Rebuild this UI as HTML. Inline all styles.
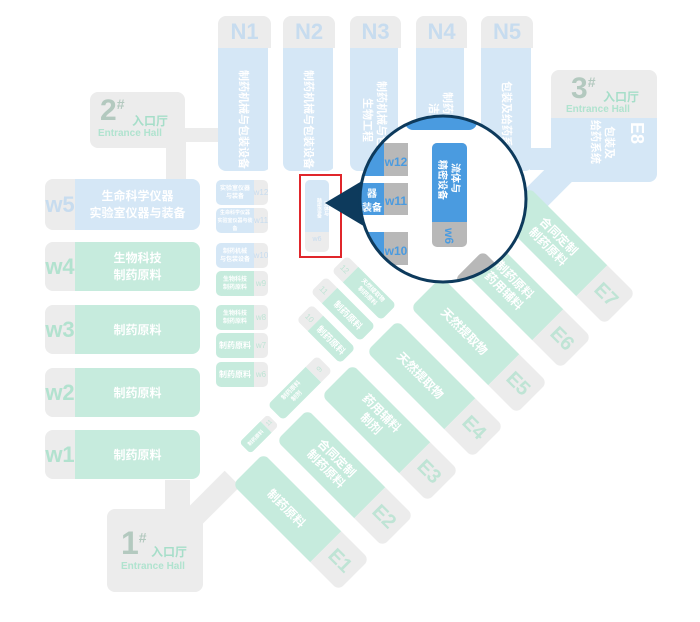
<!DOCTYPE html>
<html><head><meta charset="utf-8"><style>
body{margin:0;width:700px;height:622px;background:#fff;position:relative;overflow:hidden;font-family:"Liberation Sans","Noto Sans CJK SC",sans-serif;}
.a{position:absolute;box-sizing:border-box;}
.g{background:#ececec;}
.b{background:#d5e7f6;}
.gr{background:#c6ebdd;}
.t{color:#fff;font-weight:bold;text-align:center;}
.row{display:flex;border-radius:8px;overflow:hidden;}
.lab{display:flex;align-items:center;justify-content:center;}
.vt{writing-mode:vertical-rl;text-orientation:sideways;}
.rot{transform:translate(-50%,-50%) rotate(45deg);display:flex;border-radius:7px;overflow:hidden;}
.rotn{transform:translate(-50%,-50%) rotate(-45deg);display:flex;border-radius:6px;overflow:hidden;}
</style></head><body>

<!-- connectors -->
<div class="a g" style="left:166px;top:140px;width:20px;height:45px"></div>
<div class="a g" style="left:180px;top:128px;width:40px;height:14px"></div>
<div class="a g" style="left:165px;top:480px;width:25px;height:35px"></div>
<div class="a g" style="left:190px;top:510px;width:60px;height:22px;transform:rotate(-45deg);transform-origin:0 50%"></div>
<div class="a b" style="left:530px;top:148px;width:25px;height:22px"></div>
<div class="a b" style="left:548px;top:172px;width:28px;height:60px;transform:rotate(45deg);transform-origin:50% 0"></div>

<!-- entrance 2 -->
<div class="a g" style="left:90px;top:92px;width:95px;height:56px;border-radius:8px">
<div class="a" style="left:10px;top:2px;font-size:30px;font-weight:bold;color:#b3c9bf">2<sup style="font-size:14px">#</sup></div>
<div class="a" style="left:42px;top:20px;font-size:12px;color:#a6dec9;font-weight:bold">入口厅</div>
<div class="a" style="left:8px;top:36px;font-size:10px;color:#b0e3cf;font-weight:bold">Entrance Hall</div></div>

<!-- entrance 3 -->
<div class="a b" style="left:551px;top:110px;width:106px;height:72px;border-radius:0 0 8px 8px"></div>
<div class="a g" style="left:551px;top:70px;width:106px;height:48px;border-radius:8px 8px 0 0">
<div class="a" style="left:20px;top:2px;font-size:30px;font-weight:bold;color:#b3c9bf">3<sup style="font-size:14px">#</sup></div>
<div class="a" style="left:52px;top:18px;font-size:12px;color:#a6dec9;font-weight:bold">入口厅</div>
<div class="a" style="left:15px;top:34px;font-size:10px;color:#b0e3cf;font-weight:bold">Entrance Hall</div></div>
<div class="a t vt" style="left:588px;top:120px;font-size:11px;line-height:14px">包装及<br>给药系统</div>
<div class="a vt" style="left:626px;top:122px;font-size:18px;font-weight:bold;color:#fff">E8</div>

<!-- entrance 1 -->
<div class="a g" style="left:107px;top:509px;width:96px;height:83px;border-radius:8px">
<div class="a" style="left:14px;top:16px;font-size:32px;font-weight:bold;color:#b3c9bf">1<sup style="font-size:14px">#</sup></div>
<div class="a" style="left:44px;top:34px;font-size:12px;color:#a6dec9;font-weight:bold">入口厅</div>
<div class="a" style="left:14px;top:52px;font-size:10px;color:#b0e3cf;font-weight:bold">Entrance Hall</div></div>

<!-- N columns -->
<div class="a" style="left:218px;top:16px;width:53px;height:155px;border-radius:8px;overflow:hidden"><div class="g lab" style="height:32px;font-size:22px;font-weight:bold;color:#c7dcef">N1</div><div class="b t vt" style="height:123px;font-size:11px;padding:10px 18px;line-height:14px">制药机械与包装设备</div></div>
<div class="a" style="left:283px;top:16px;width:52px;height:155px;border-radius:8px;overflow:hidden"><div class="g lab" style="height:32px;font-size:22px;font-weight:bold;color:#c7dcef">N2</div><div class="b t vt" style="height:123px;font-size:11px;padding:10px 18px;line-height:14px">制药机械与包装设备</div></div>
<div class="a" style="left:350px;top:16px;width:51px;height:155px;border-radius:8px;overflow:hidden"><div class="g lab" style="height:32px;font-size:22px;font-weight:bold;color:#c7dcef">N3</div><div class="b t vt" style="height:123px;font-size:11px;padding:10px 10px;line-height:14px">制药机械与包装<br>生物工程</div></div>
<div class="a" style="left:416px;top:16px;width:51px;height:155px;border-radius:8px;overflow:hidden"><div class="g lab" style="height:32px;font-size:22px;font-weight:bold;color:#c7dcef">N4</div><div class="b t vt" style="height:123px;font-size:11px;padding:10px 10px;line-height:14px">制药机械与<br>洁净与</div></div>
<div class="a" style="left:481px;top:16px;width:52px;height:155px;border-radius:8px;overflow:hidden"><div class="g lab" style="height:32px;font-size:22px;font-weight:bold;color:#c7dcef">N5</div><div class="b t vt" style="height:123px;font-size:11px;padding:10px 18px;line-height:14px">包装及给药系统</div></div>

<!-- W left -->
<div class="a row" style="left:45px;top:179px;width:155px;height:51px"><div class="g lab" style="width:30px;font-size:22px;font-weight:bold;color:#c7dcef">w5</div><div class="b t lab" style="flex:1;font-size:12px;line-height:17px">生命科学仪器<br>实验室仪器与装备</div></div>
<div class="a row" style="left:45px;top:242px;width:155px;height:49px"><div class="g lab" style="width:30px;font-size:22px;font-weight:bold;color:#b2e2cf">w4</div><div class="gr t lab" style="flex:1;font-size:12px;line-height:17px">生物科技<br>制药原料</div></div>
<div class="a row" style="left:45px;top:305px;width:155px;height:49px"><div class="g lab" style="width:30px;font-size:22px;font-weight:bold;color:#b2e2cf">w3</div><div class="gr t lab" style="flex:1;font-size:12px">制药原料</div></div>
<div class="a row" style="left:45px;top:368px;width:155px;height:49px"><div class="g lab" style="width:30px;font-size:22px;font-weight:bold;color:#b2e2cf">w2</div><div class="gr t lab" style="flex:1;font-size:12px">制药原料</div></div>
<div class="a row" style="left:45px;top:430px;width:155px;height:49px"><div class="g lab" style="width:30px;font-size:22px;font-weight:bold;color:#b2e2cf">w1</div><div class="gr t lab" style="flex:1;font-size:12px">制药原料</div></div>

<!-- middle small -->
<div class="a row" style="left:216px;top:180px;width:52px;height:25px;border-radius:5px"><div class="b t lab" style="flex:1;font-size:6px;line-height:8px">实验室仪器<br>与装备</div><div class="g lab" style="width:14px;font-size:8px;color:#c7dcef">w12</div></div>
<div class="a row" style="left:216px;top:208px;width:52px;height:25px;border-radius:5px"><div class="b t lab" style="flex:1;font-size:5px;line-height:8px">生命科学仪器<br>实验室仪器与装备</div><div class="g lab" style="width:14px;font-size:8px;color:#c7dcef">w11</div></div>
<div class="a row" style="left:216px;top:243px;width:52px;height:25px;border-radius:5px"><div class="b t lab" style="flex:1;font-size:6px;line-height:8px">制药机械<br>与包装设备</div><div class="g lab" style="width:14px;font-size:8px;color:#c7dcef">w10</div></div>
<div class="a row" style="left:216px;top:271px;width:52px;height:25px;border-radius:5px"><div class="gr t lab" style="flex:1;font-size:6px;line-height:8px">生物科技<br>制药原料</div><div class="g lab" style="width:14px;font-size:8px;color:#bfe4d5">w9</div></div>
<div class="a row" style="left:216px;top:305px;width:52px;height:25px;border-radius:5px"><div class="gr t lab" style="flex:1;font-size:6px;line-height:8px">生物科技<br>制药原料</div><div class="g lab" style="width:14px;font-size:8px;color:#bfe4d5">w8</div></div>
<div class="a row" style="left:216px;top:333px;width:52px;height:25px;border-radius:5px"><div class="gr t lab" style="flex:1;font-size:8px">制药原料</div><div class="g lab" style="width:14px;font-size:8px;color:#bfe4d5">w7</div></div>
<div class="a row" style="left:216px;top:362px;width:52px;height:25px;border-radius:5px"><div class="gr t lab" style="flex:1;font-size:8px">制药原料</div><div class="g lab" style="width:14px;font-size:8px;color:#bfe4d5">w6</div></div>

<!-- w6 small in red box -->
<div class="a g" style="left:305px;top:180px;width:24px;height:72px;border-radius:5px"></div>
<div class="a b" style="left:305px;top:180px;width:24px;height:52px;border-radius:5px 5px 0 0"></div>
<div class="a" style="left:305px;top:186px;width:24px;height:44px;color:#fff;font-size:5px;line-height:7px;font-weight:bold;writing-mode:vertical-rl;text-align:center">流体与<br>精密设备</div>
<div class="a" style="left:305px;top:236px;width:24px;font-size:7px;color:#c7dcef;text-align:center">w6</div>
<div class="a" style="left:299px;top:174px;width:43px;height:84px;border:2px solid #e0262b"></div>

<!-- diagonal E bars -->
<div class="a rot" style="left:301px;top:522px;width:150px;height:44px"><div class="gr t lab" style="flex:1;font-size:12px">制药原料</div><div class="g lab" style="width:40px;font-size:20px;color:#bfe4d5;font-weight:bold">E1</div></div>
<div class="a rot" style="left:345px;top:478px;width:150px;height:44px"><div class="gr t lab" style="flex:1;font-size:12px;line-height:15px">合同定制<br>制药原料</div><div class="g lab" style="width:40px;font-size:20px;color:#bfe4d5;font-weight:bold">E2</div></div>
<div class="a rot" style="left:390px;top:433px;width:150px;height:44px"><div class="gr t lab" style="flex:1;font-size:12px;line-height:15px">药用辅料<br>制剂</div><div class="g lab" style="width:40px;font-size:20px;color:#bfe4d5;font-weight:bold">E3</div></div>
<div class="a rot" style="left:435px;top:389px;width:150px;height:44px"><div class="gr t lab" style="flex:1;font-size:12px">天然提取物</div><div class="g lab" style="width:40px;font-size:20px;color:#bfe4d5;font-weight:bold">E4</div></div>
<div class="a rot" style="left:479px;top:345px;width:150px;height:44px"><div class="gr t lab" style="flex:1;font-size:12px">天然提取物</div><div class="g lab" style="width:40px;font-size:20px;color:#bfe4d5;font-weight:bold">E5</div></div>
<div class="a rot" style="left:523px;top:300px;width:150px;height:44px"><div class="gr t lab" style="flex:1;font-size:12px;line-height:15px">制药原料<br>药用辅料</div><div class="g lab" style="width:40px;font-size:20px;color:#bfe4d5;font-weight:bold">E6</div></div>
<div class="a rot" style="left:567px;top:256px;width:150px;height:44px"><div class="gr t lab" style="flex:1;font-size:12px;line-height:15px">合同定制<br>制药原料</div><div class="g lab" style="width:40px;font-size:20px;color:#bfe4d5;font-weight:bold">E7</div></div>

<!-- small diagonals -->
<div class="a rot" style="left:364px;top:288px;width:70px;height:22px;border-radius:5px"><div class="g lab" style="width:16px;font-size:8px;color:#bfe4d5">12</div><div class="gr t lab" style="flex:1;font-size:6px;line-height:8px">天然提取物<br>制药原料</div></div>
<div class="a rot" style="left:343px;top:309px;width:70px;height:22px;border-radius:5px"><div class="g lab" style="width:16px;font-size:8px;color:#bfe4d5">11</div><div class="gr t lab" style="flex:1;font-size:9px">制药原料</div></div>
<div class="a rot" style="left:326px;top:334px;width:62px;height:22px;border-radius:5px"><div class="g lab" style="width:16px;font-size:8px;color:#bfe4d5">10</div><div class="gr t lab" style="flex:1;font-size:9px">制药原料</div></div>
<div class="a rotn" style="left:300px;top:388px;width:70px;height:22px;border-radius:5px"><div class="gr t lab" style="flex:1;font-size:6px;line-height:8px">制药原料<br>制剂</div><div class="g lab" style="width:16px;font-size:8px;color:#bfe4d5">9</div></div>
<div class="a rotn" style="left:259px;top:434px;width:40px;height:16px;border-radius:4px"><div class="gr t lab" style="flex:1;font-size:5px">制药原料</div><div class="g lab" style="width:10px;font-size:6px;color:#bfe4d5">11</div></div>

<!-- magnifier -->
<svg class="a" style="left:0;top:0" width="700" height="622">
<defs><clipPath id="c"><circle cx="443" cy="199" r="83"/></clipPath></defs>
<polygon points="325,203 372,175 372,231" fill="#0d3a5c"/>
<circle cx="443" cy="199" r="83" fill="#fff"/>
<g clip-path="url(#c)" font-family="Liberation Sans, Noto Sans CJK SC, sans-serif" font-weight="bold">
<rect x="405" y="100" width="72" height="30" rx="8" fill="#4a9be0"/>
<rect x="340" y="143" width="68" height="33" rx="5" fill="#4a9be0"/>
<rect x="384" y="143" width="24" height="33" fill="#b8b8b8"/>
<text x="396" y="166" font-size="12" fill="#4a9be0" text-anchor="middle">w12</text>
<rect x="340" y="183" width="68" height="32" rx="5" fill="#4a9be0"/>
<rect x="384" y="183" width="24" height="32" fill="#b8b8b8"/>
<text x="396" y="205" font-size="12" fill="#4a9be0" text-anchor="middle">w11</text>
<text x="372" y="197" font-size="10" fill="#fff" text-anchor="middle">器</text>
<text x="372" y="211" font-size="10" fill="#fff" text-anchor="middle">装备</text>
<rect x="340" y="232" width="68" height="33" rx="5" fill="#4a9be0"/>
<rect x="384" y="232" width="24" height="33" fill="#b8b8b8"/>
<text x="396" y="255" font-size="12" fill="#4a9be0" text-anchor="middle">w10</text>
<rect x="432" y="143" width="35" height="104" rx="5" fill="#b8b8b8"/>
<rect x="432" y="143" width="35" height="79" rx="5" fill="#4a9be0"/>
<rect x="432" y="212" width="35" height="10" fill="#4a9be0"/>
<text x="449" y="240" font-size="12" fill="#4a9be0" text-anchor="middle" transform="rotate(90 449 236)">w6</text>
<text transform="translate(452,163) rotate(90)" font-size="10" fill="#fff">流体与</text>
<text transform="translate(439,160) rotate(90)" font-size="10" fill="#fff">精密设备</text>
<rect x="470" y="258" width="30" height="40" rx="6" fill="#b8b8b8" transform="rotate(45 485 270)"/>
<rect x="490" y="260" width="60" height="40" fill="#c3ebdc" transform="rotate(45 520 280)"/>
</g>
<circle cx="443" cy="199" r="83" fill="none" stroke="#0d3a5c" stroke-width="3"/>
</svg>
</body></html>
